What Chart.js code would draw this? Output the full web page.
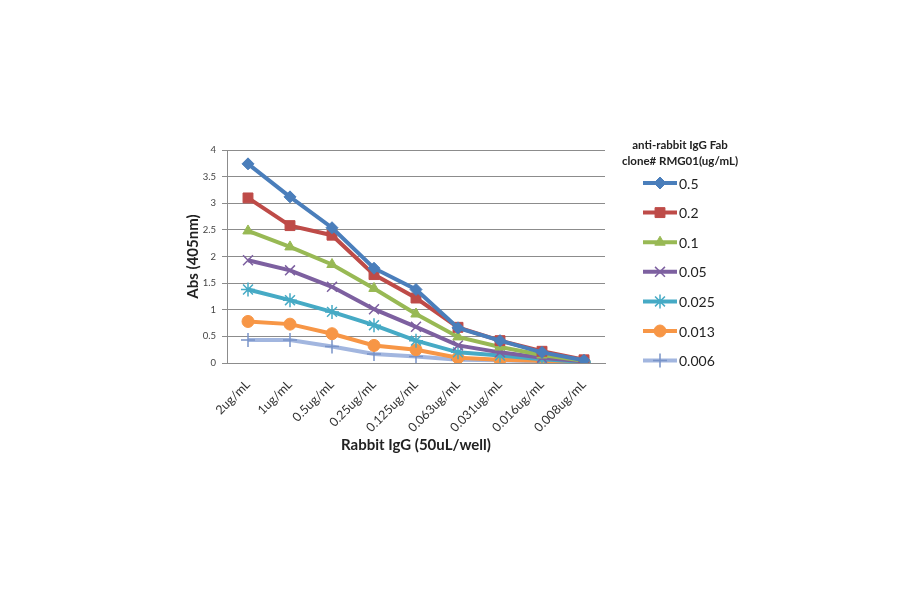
<!DOCTYPE html>
<html>
<head>
<meta charset="utf-8">
<script src="https://cdn.jsdelivr.net/npm/chart.js@4.4.1/dist/chart.umd.min.js"></script>
<style>
html,body{margin:0;padding:0;background:#fff;}
#wrap{width:900px;height:594px;position:relative;}
</style>
</head>
<body>
<div id="wrap"><canvas id="c" width="900" height="594"></canvas></div>
<script>
const categories = ["2ug/mL","1ug/mL","0.5ug/mL","0.25ug/mL","0.125ug/mL","0.063ug/mL","0.031ug/mL","0.016ug/mL","0.008ug/mL"];
const seriesNames = ["0.5","0.2","0.1","0.05","0.025","0.013","0.006"];
const s05   = [3.74, 3.12, 2.54, 1.78, 1.38, 0.66, 0.42, 0.20, 0.05];
const s02   = [3.10, 2.58, 2.40, 1.66, 1.22, 0.67, 0.42, 0.22, 0.06];
const s01   = [2.48, 2.18, 1.85, 1.40, 0.92, 0.49, 0.30, 0.15, 0.04];
const s005  = [1.93, 1.74, 1.43, 1.01, 0.68, 0.33, 0.20, 0.10, 0.03];
const s0025 = [1.38, 1.18, 0.96, 0.71, 0.42, 0.20, 0.14, 0.07, 0.02];
const s0013 = [0.78, 0.73, 0.55, 0.33, 0.25, 0.10, 0.06, 0.04, 0.02];
const s0006 = [0.43, 0.43, 0.31, 0.17, 0.12, 0.06, 0.05, 0.03, 0.01];
const yTicks = [0, 0.5, 1, 1.5, 2, 2.5, 3, 3.5, 4];
const legendTitle = ["anti-rabbit IgG Fab", "clone# RMG01(ug/mL)"];
const xTitle = "Rabbit IgG (50uL/well)";
const yTitle = "Abs (405nm)";

const values = [s05, s02, s01, s005, s0025, s0013, s0006];
const lineColors = ["#4A7EBB", "#BE4B48", "#98B954", "#7D60A0", "#46AAC5", "#F79646", "#A2B6DF"];
const markerColors = ["#4A7EBB", "#BE4B48", "#98B954", "#7D60A0", "#46AAC5", "#F79646", "#7893C8"];
const styles = ["rectRot", "rect", "triangle", "crossRot", "star", "circle", "cross"];
const radii = [6, 7, 6, 7, 7, 6, 7];

const FONT = "Lato, 'Open Sans', sans-serif";

const datasets = values.map((v, i) => {
  const lineStyle = ["crossRot","star","cross"].includes(styles[i]);
  return {
    label: seriesNames[i],
    data: v,
    borderColor: lineColors[i],
    backgroundColor: markerColors[i],
    borderWidth: 4,
    pointStyle: styles[i],
    pointRadius: radii[i],
    pointHoverRadius: radii[i],
    pointBackgroundColor: markerColors[i],
    pointBorderColor: markerColors[i],
    pointBorderWidth: lineStyle ? 1.5 : 1,
    tension: 0,
    fill: false
  };
});

function fallbackPoint(ctx, style, r, x, y) {
  ctx.beginPath();
  if (style === "circle") { ctx.arc(x, y, r, 0, Math.PI*2); ctx.fill(); return; }
  if (style === "rect") { ctx.fillRect(x-r*0.8, y-r*0.8, r*1.6, r*1.6); return; }
  if (style === "rectRot") { ctx.moveTo(x, y-r); ctx.lineTo(x+r, y); ctx.lineTo(x, y+r); ctx.lineTo(x-r, y); ctx.closePath(); ctx.fill(); return; }
  if (style === "triangle") { ctx.moveTo(x, y-r); ctx.lineTo(x+r*0.87, y+r*0.5); ctx.lineTo(x-r*0.87, y+r*0.5); ctx.closePath(); ctx.fill(); return; }
  if (style === "cross" || style === "star") { ctx.moveTo(x, y-r); ctx.lineTo(x, y+r); ctx.moveTo(x-r, y); ctx.lineTo(x+r, y); }
  if (style === "crossRot" || style === "star") { const d = r*0.707; ctx.moveTo(x-d, y-d); ctx.lineTo(x+d, y+d); ctx.moveTo(x+d, y-d); ctx.lineTo(x-d, y+d); }
  ctx.stroke();
}

const customLegend = {
  id: "customLegend",
  afterDraw(chart) {
    const ctx = chart.ctx;
    ctx.save();
    ctx.fillStyle = "#222";
    ctx.font = "bold 11.5px " + FONT;
    ctx.textAlign = "center";
    ctx.textBaseline = "middle";
    ctx.fillText(legendTitle[0], 680, 145);
    ctx.fillText(legendTitle[1], 680, 161);
    chart.data.datasets.forEach((ds, i) => {
      const y = 183 + i * 29.6;
      ctx.strokeStyle = ds.borderColor;
      ctx.lineWidth = 4;
      ctx.beginPath();
      ctx.moveTo(643, y);
      ctx.lineTo(677, y);
      ctx.stroke();
      ctx.fillStyle = ds.pointBackgroundColor;
      ctx.strokeStyle = ds.pointBorderColor;
      ctx.lineWidth = ds.pointBorderWidth;
      const opts = { pointStyle: ds.pointStyle, radius: ds.pointRadius, borderWidth: ds.pointBorderWidth, rotation: 0 };
      if (window.Chart && Chart.helpers && Chart.helpers.drawPoint) {
        Chart.helpers.drawPoint(ctx, opts, 660, y);
      } else {
        fallbackPoint(ctx, ds.pointStyle, ds.pointRadius, 660, y);
      }
      ctx.fillStyle = "#222";
      ctx.font = "14px " + FONT;
      ctx.textAlign = "left";
      ctx.fillText(ds.label, 679, y + 1);
    });
    ctx.restore();
  }
};

new Chart(document.getElementById("c"), {
  type: "line",
  data: { labels: categories, datasets: datasets },
  plugins: [customLegend],
  options: {
    responsive: false,
    animation: false,
    events: [],
    layout: { padding: { left: 180, right: 295, top: 150, bottom: 140 } },
    plugins: { legend: { display: false }, tooltip: { enabled: false }, title: { display: false } },
    scales: {
      x: {
        type: "category",
        offset: true,
        grid: { display: false },
        border: { display: true, color: "#8c8c8c", width: 1 },
        ticks: { minRotation: 45, maxRotation: 45, autoSkip: false, color: "#333", padding: 6, font: { family: FONT, size: 12.5 } },
        title: { display: true, text: xTitle, color: "#222", padding: { top: 4, bottom: 0 }, font: { family: FONT, size: 15, weight: "bold" } },
        afterFit(scale) { scale.height = 91; }
      },
      y: {
        min: 0, max: 4,
        afterBuildTicks(scale) { scale.ticks = yTicks.map(v => ({ value: v })); },
        grid: { color: "#8c8c8c", lineWidth: 1, tickLength: 5, tickColor: "#8c8c8c" },
        border: { display: true, color: "#8c8c8c", width: 1 },
        ticks: { color: "#444", padding: 6, font: { family: FONT, size: 9.5 }, callback: (v) => String(v) },
        title: { display: true, text: yTitle, color: "#222", padding: { top: 4, bottom: 0 }, font: { family: FONT, size: 15, weight: "bold" } },
        afterFit(scale) { scale.width = 47; }
      }
    }
  }
});
</script>
</body>
</html>
